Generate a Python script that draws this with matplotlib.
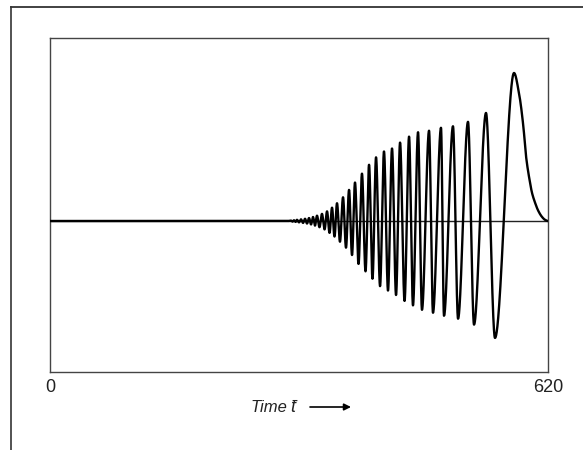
import numpy as np
import matplotlib
matplotlib.use('Agg')
import matplotlib.pyplot as plt
from matplotlib.lines import Line2D

# ---------------------------------------------------------------------------
# Data (time units, amplitude normalised to last peak)
# ---------------------------------------------------------------------------
PEAK_T = [300.0, 303.8, 307.5, 312.5, 317.5, 322.5, 327.4, 332.4, 338.6, 344.9,
          351.1, 357.3, 364.8, 372.3, 379.7, 388.4, 397.2, 405.9, 415.8, 425.8,
          435.8, 447.0, 458.2, 471.9, 486.8, 501.7, 520.4, 542.8, 577.7]
PEAK_A = [0.003, 0.005, 0.008, 0.011, 0.015, 0.020, 0.027, 0.036, 0.048, 0.065,
          0.09, 0.12, 0.16, 0.21, 0.26, 0.32, 0.38, 0.43, 0.47, 0.49,
          0.53, 0.57, 0.60, 0.61, 0.63, 0.64, 0.67, 0.73, 1.00]

TROUGH_T = [301.9, 305.7, 310.0, 315.0, 320.0, 325.0, 329.9, 335.5, 341.8, 348.0,
            354.2, 361.0, 368.5, 376.0, 384.1, 392.8, 401.5, 410.9, 420.8, 430.8,
            441.4, 451.9, 463.1, 476.8, 490.5, 508.0, 527.9, 554.0]
TROUGH_A = [-0.004, -0.006, -0.009, -0.013, -0.017, -0.023, -0.031, -0.042, -0.057, -0.08,
            -0.105, -0.14, -0.18, -0.23, -0.29, -0.34, -0.39, -0.44, -0.47, -0.50,
            -0.54, -0.57, -0.60, -0.62, -0.64, -0.66, -0.70, -0.79]

# decay after the last peak
TAIL_T = [584.0, 589.3, 592.6, 597.6, 600.1, 603.8, 607.6, 612.2, 616.3, 620.0]
TAIL_A = [0.86, 0.64, 0.44, 0.26, 0.19, 0.125, 0.072, 0.03, 0.008, 0.0]

T_MAX = 620
X_TICKS = [0, 620]
X_LABEL = 'Time'
FONT = 'Liberation Sans'


def pchip(xk, yk, x):
    """monotone cubic hermite through the read-off points"""
    xk = np.asarray(xk, float)
    yk = np.asarray(yk, float)
    h = np.diff(xk)
    delta = np.diff(yk) / h
    d = np.zeros_like(yk)
    for k in range(1, len(xk) - 1):
        if delta[k - 1] * delta[k] > 0:
            w1 = 2 * h[k] + h[k - 1]
            w2 = h[k] + 2 * h[k - 1]
            d[k] = (w1 + w2) / (w1 / delta[k - 1] + w2 / delta[k])
    i = np.clip(np.searchsorted(xk, x) - 1, 0, len(xk) - 2)
    s = (x - xk[i]) / h[i]
    h00 = 2 * s**3 - 3 * s**2 + 1
    h10 = s**3 - 2 * s**2 + s
    h01 = -2 * s**3 + 3 * s**2
    h11 = s**3 - s**2
    return h00 * yk[i] + h10 * h[i] * d[i] + h01 * yk[i + 1] + h11 * h[i] * d[i + 1]


def main():
    pts = sorted(zip(PEAK_T + TROUGH_T, PEAK_A + TROUGH_A))
    kt = [0.0, 296.0] + [p[0] for p in pts] + TAIL_T
    ka = [0.0, 0.0] + [p[1] for p in pts] + TAIL_A

    t = np.linspace(0, T_MAX, 8000)
    wave = pchip(kt, ka, t)

    fig = plt.figure(figsize=(5.83, 4.50), dpi=100)
    fig.patch.set_facecolor('white')

    # outer scanned frame (left + top edge)
    fig.add_artist(Line2D([10.5 / 583, 10.5 / 583], [0, 1 - 7 / 450],
                          transform=fig.transFigure, color='#444444', lw=1.3))
    fig.add_artist(Line2D([10.5 / 583, 1], [1 - 7 / 450, 1 - 7 / 450],
                          transform=fig.transFigure, color='#333333', lw=1.3))

    ax = fig.add_axes([50 / 583, 78 / 450, 498 / 583, 334 / 450])
    ax.axhline(0, color='#222222', lw=1.0, zorder=2)
    ax.plot(t, wave, color='black', lw=1.7, zorder=3)

    ax.set_xlim(0, T_MAX)
    ax.set_ylim(-151 / 148, 183 / 148)
    ax.set_yticks([])
    ax.set_xticks(X_TICKS)
    ax.set_xticklabels([str(v) for v in X_TICKS], fontsize=13, family=FONT)
    ax.tick_params(axis='x', length=0, pad=5, colors='#222222')
    for side, spine in ax.spines.items():
        spine.set_edgecolor('#444444')
        spine.set_linewidth(1.0)

    # axis label: Time t-bar with arrow
    fig.text(287 / 583, 1 - 408 / 450, X_LABEL, fontsize=12, style='italic',
             family=FONT, ha='right', va='center', color='#222222')
    fig.text(290 / 583, 1 - 408 / 450, 't\u0304', fontsize=13, style='italic',
             family=FONT, ha='left', va='center', color='#222222')
    ax.annotate('', xy=(351 / 583, 1 - 407 / 450), xycoords='figure fraction',
                xytext=(310 / 583, 1 - 407 / 450), textcoords='figure fraction',
                arrowprops=dict(arrowstyle='-|>', color='black', lw=1.2,
                                mutation_scale=10, shrinkA=0, shrinkB=0))

    fig.savefig('out.png', dpi=100, facecolor='white')
    plt.close(fig)


if __name__ == '__main__':
    main()
